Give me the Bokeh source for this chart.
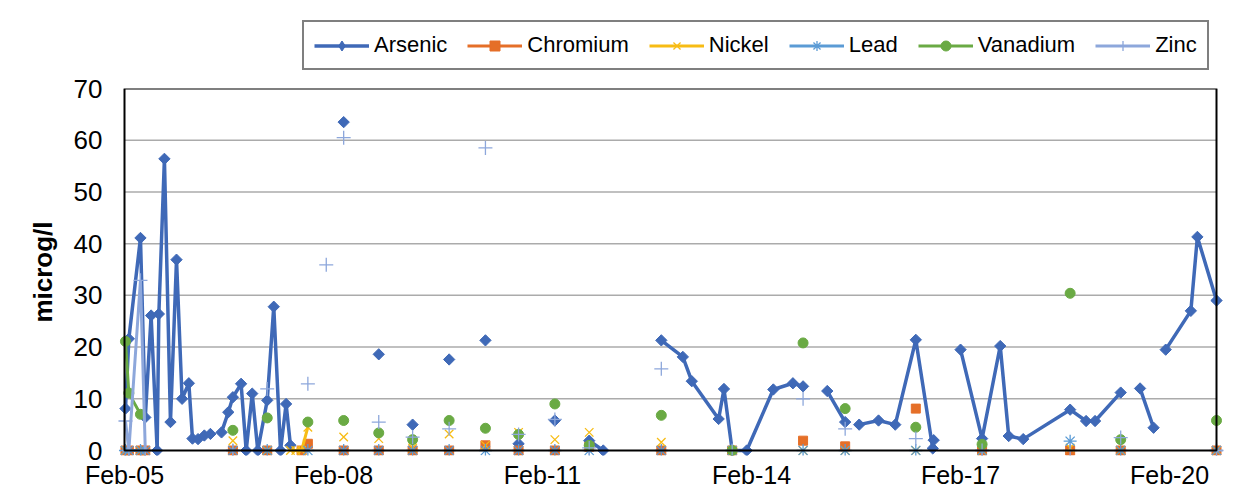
import numpy as np
import pandas as pd
from bokeh.plotting import figure
from bokeh.layouts import column
from bokeh.models import (ColumnDataSource, Range1d, FixedTicker, DatetimeTickFormatter,
                          Legend, LegendItem, BoxAnnotation)
from bokeh.embed import file_html
from bokeh.resources import INLINE

N = None
YEAR = "2010"

# sampling times (month-day hour:minute); rows with no value at all are breaks between runs
sample_time = [
    "02-05 00:20", "02-05 01:30", "02-05 05:30", "02-05 07:10", "02-05 09:10", "02-05 11:15", "02-05 11:50",
    "02-05 13:45", "02-05 15:50", "02-05 17:55", "02-05 19:50", "02-05 22:10", "02-05 23:25",
    "02-06 01:20", "02-06 03:30", "02-06 05:35", "02-06 07:30", "02-06 09:25", "02-06 11:45", "02-06 13:20",
    "02-06 16:10", "02-06 17:55", "02-06 20:00", "02-06 21:55",
    "02-07 01:10", "02-07 03:25", "02-07 05:45", "02-07 07:40", "02-07 09:10", "02-07 11:00", "02-07 13:00",
    "02-07 15:10", "02-07 18:00", "02-07 21:30",
    "02-08 00:00", "02-08 03:30", "02-08 09:30", "02-08 15:35", "02-08 21:30",
    "02-09 03:15", "02-09 09:30", "02-09 15:50", "02-09 22:00",
    "02-10 04:20", "02-10 10:00", "02-10 15:45", "02-10 22:00",
    "02-11 04:15", "02-11 10:00", "02-11 16:05", "02-11 20:55",
    "02-12 06:00", "02-12 16:55",
    "02-13 00:20", "02-13 03:25", "02-13 12:40", "02-13 14:30", "02-13 17:20", "02-13 22:20",
    "02-14 07:30", "02-14 14:15", "02-14 17:45", "02-14 22:00",
    "02-15 02:05", "02-15 08:15", "02-15 10:30", "02-15 13:05", "02-15 19:45",
    "02-16 01:30", "02-16 08:35", "02-16 14:25", "02-16 14:45", "02-16 19:00",
    "02-17 00:00", "02-17 07:25", "02-17 13:40", "02-17 16:35", "02-17 21:35",
    "02-18 13:45", "02-18 19:15", "02-18 22:20",
    "02-19 07:10", "02-19 10:50", "02-19 13:50", "02-19 18:30", "02-19 20:30", "02-19 22:40",
    "02-20 07:20", "02-20 09:35", "02-20 16:10",
]

arsenic = ([8.1, 21.6, 41.1, 6.4, 26.1, 0, 26.4, 56.4, 5.5, 36.9, 10.0, 13.0, 2.3]
           + [2.2, 2.9, 3.2, N, 3.5, 7.4, 10.3, 12.9, 0, 11.0, 0]
           + [9.7, 27.8, 0, 9.0, 1.0, N, N, N, N, N]
           + [N, 63.5, N, 18.6, N]
           + [5.0, N, 17.6, N]
           + [21.3, N, 1.3, N]
           + [5.8, N, 1.9, 0]
           + [N, 21.3]
           + [18.1, 13.4, 6.1, 11.9, 0, 0]
           + [11.8, 13.0, 12.4, N]
           + [11.5, 5.5, N, 5.0, 5.8]
           + [5.0, 21.4, 0.4, 2.0, N]
           + [19.5, 2.3, 20.2, 2.8, 2.2]
           + [7.9, 5.7, 5.7]
           + [11.2, N, 12.0, 4.4, N, 19.5]
           + [27.0, 41.3, 29.0])

chromium = ([0, 0, 0, 0] + [N] * 9
            + [N] * 6 + [0] + [N] * 4
            + [0, N, N, N, N, N, 0, 1.3, N, N]
            + [N, 0, N, 0, N]
            + [0, N, 0, N]
            + [1.0, N, 0, N]
            + [0, N, 0.7, N]
            + [N, 0]
            + [N, N, N, N, 0, N]
            + [N, N, 1.9, N]
            + [N, 0.8, N, N, N]
            + [N, 8.1, N, N, N]
            + [N, 0, N, N, N]
            + [0, N, N]
            + [0, N, N, N, N, N]
            + [N, N, 0])

nickel = ([0, N, 0, N] + [N] * 9
          + [N] * 6 + [1.9] + [N] * 4
          + [0, N, N, N, 0, 0, 0, 4.5, N, N]
          + [N, 2.6, N, 2.3, N]
          + [0.5, N, 3.2, N]
          + [1.0, N, 3.5, N]
          + [2.1, N, 3.5, N]
          + [N, 1.6]
          + [N, N, N, N, 0, N]
          + [N, N, 0, N]
          + [N, 0, N, N, N]
          + [N, 0, N, N, N]
          + [N, 0, N, N, N]
          + [0.5, N, N]
          + [0, N, N, N, N, N]
          + [N, N, 0])

lead = ([0, 0, 0, 0] + [N] * 9
        + [N] * 6 + [0] + [N] * 4
        + [0, N, N, N, N, N, N, 0, N, N]
        + [N, 0, N, 0, N]
        + [0, N, 0, N]
        + [0, N, 0, N]
        + [0, N, 0, N]
        + [N, 0]
        + [N, N, N, N, 0, N]
        + [N, N, 0, N]
        + [N, 0, N, N, N]
        + [N, 0, N, N, N]
        + [N, 0, N, N, N]
        + [1.8, N, N]
        + [0, N, N, N, N, N]
        + [N, N, 0])

vanadium = ([21.1, 11.1, 7.0, N] + [N] * 9
            + [N] * 6 + [3.9] + [N] * 4
            + [6.3, N, N, N, N, N, N, 5.5, N, N]
            + [N, 5.8, N, 3.4, N]
            + [2.1, N, 5.8, N]
            + [4.3, N, 3.1, N]
            + [9.0, N, 1.0, N]
            + [N, 6.8]
            + [N, N, N, N, 0, N]
            + [N, N, 20.8, N]
            + [N, 8.1, N, N, N]
            + [N, 4.5, N, N, N]
            + [N, 1.2, N, N, N]
            + [30.4, N, N]
            + [2.1, N, N, N, N, N]
            + [N, N, 5.8])

zinc = ([5.7, 0, 32.9, 0] + [N] * 9
        + [N] * 6 + [0] + [N] * 4
        + [11.9, N, N, N, N, N, N, 12.9, N, 35.9]
        + [N, 60.5, N, 5.5, N]
        + [2.6, N, 4.2, N]
        + [58.5, N, 3.1, N]
        + [6.0, N, 0.5, N]
        + [N, 15.8]
        + [N, N, N, N, 0, N]
        + [N, N, 10.0, N]
        + [N, 4.2, N, N, N]
        + [N, 2.3, N, N, N]
        + [N, 0, N, N, N]
        + [0, N, N]
        + [2.5, N, N, N, N, N]
        + [N, N, 0])

series_names = ["Arsenic", "Chromium", "Nickel", "Lead", "Vanadium", "Zinc"]
x_tick_dates = ["02-05", "02-08", "02-11", "02-14", "02-17", "02-20"]
y_ticks = [0, 10, 20, 30, 40, 50, 60, 70]

times = pd.to_datetime([f"{YEAR}-{s}" for s in sample_time])
data = dict(t=times)
for name, vals in zip(series_names, [arsenic, chromium, nickel, lead, vanadium, zinc]):
    data[name] = np.array(vals, dtype=float)
src = ColumnDataSource(data)

def ms(ts):
    return ts.value / 1e6

x_min = pd.Timestamp(f"{YEAR}-02-05 00:00")
x_max = times.max()
day_px = 1092.0 / ((x_max - x_min) / pd.Timedelta(days=1))
pad = 8.0 / day_px * 86400000.0
y_per_px = 70.0 / 362.0

FONT = "Liberation Sans"
W = 1240
LEG_H = 70

styles = {
    "Arsenic": dict(color="#3F69B7", marker="square", size=8, angle=np.pi / 4, lw=3.5),
    "Chromium": dict(color="#E56F28", marker="square", size=9, angle=0, lw=3),
    "Nickel": dict(color="#F7BC14", marker="x", size=12, angle=0, lw=3),
    "Lead": dict(color="#5B9BD5", marker="asterisk", size=13, angle=0, lw=3),
    "Vanadium": dict(color="#6AAA44", marker="circle", size=10, angle=0, lw=3),
    "Zinc": dict(color="#8DA7DB", marker="cross", size=14, angle=0, lw=3),
}

def add_series(fig, source, name, for_legend=False):
    st = dict(styles[name])
    if for_legend:
        st["size"] = st["size"] * 0.8
        if name == "Arsenic":
            st["marker"], st["size"], st["angle"] = "diamond", 12, 0
    lr = fig.line("t", name, source=source, line_color=st["color"], line_width=st["lw"])
    if st["marker"] in ("x", "asterisk", "cross"):
        sr = fig.scatter("t", name, source=source, marker=st["marker"], size=st["size"],
                         line_color=st["color"], line_width=1.3, fill_color=None)
    else:
        sr = fig.scatter("t", name, source=source, marker=st["marker"], size=st["size"],
                         angle=st["angle"], fill_color=st["color"], line_color=st["color"])
    return lr, sr

# ---------------- main chart ----------------
p = figure(width=W, height=421, output_backend="svg", toolbar_location=None,
           x_axis_type="datetime",
           x_range=Range1d(ms(x_min) - pad, ms(x_max) + pad),
           y_range=Range1d(-5 * y_per_px, 70),
           min_border_left=116, min_border_right=W - 1224, min_border_top=18, min_border_bottom=36)
p.outline_line_color = None
p.background_fill_color = "white"
p.border_fill_color = "white"
p.xgrid.visible = False
p.ygrid.visible = False

grid_vals = y_ticks[1:-1]
p.segment(x0=[ms(x_min)] * len(grid_vals), x1=[ms(x_max)] * len(grid_vals),
          y0=grid_vals, y1=grid_vals, line_color="#ABABAB", line_width=1.5)

for name in series_names:
    add_series(p, src, name)

p.add_layout(BoxAnnotation(left=ms(x_min), right=ms(x_max), bottom=0, top=70,
                           fill_color=None, fill_alpha=0, line_color="black",
                           line_alpha=1.0, line_width=2))

xax = p.xaxis[0]
xax.ticker = FixedTicker(ticks=[ms(pd.Timestamp(f"{YEAR}-{d}")) for d in x_tick_dates])
fmt = "%b-%d"
xax.formatter = DatetimeTickFormatter(days=fmt, months=fmt, hours=fmt, hourmin=fmt,
                                      minutes=fmt, years=fmt, seconds=fmt, minsec=fmt,
                                      milliseconds=fmt, microseconds=fmt)
xax.axis_line_color = None
xax.major_tick_line_color = None
xax.minor_tick_line_color = None
xax.major_tick_out = 0
xax.major_label_standoff = 5
xax.major_label_text_font = FONT
xax.major_label_text_font_size = "25px"
xax.major_label_text_color = "black"

yax = p.yaxis[0]
yax.ticker = FixedTicker(ticks=y_ticks)
yax.axis_line_color = None
yax.major_tick_line_color = None
yax.minor_tick_line_color = None
yax.major_label_standoff = 8
yax.major_label_text_font = FONT
yax.major_label_text_font_size = "26px"
yax.major_label_text_color = "black"
yax.axis_label = "microg/l"
yax.axis_label_text_font = FONT
yax.axis_label_text_font_size = "26px"
yax.axis_label_text_font_style = "bold"
yax.axis_label_text_color = "black"
yax.axis_label_standoff = 13

# ---------------- legend strip above the chart ----------------
# one off-screen sample per series so that the legend can draw each glyph
offscreen = ColumnDataSource({"t": [10.0], **{n: [10.0] for n in series_names}})
lg = figure(width=W, height=LEG_H, output_backend="svg", toolbar_location=None,
            x_range=Range1d(0, 1), y_range=Range1d(0, 1),
            x_axis_location=None, y_axis_location=None,
            min_border_left=0, min_border_right=0, min_border_top=0, min_border_bottom=0)
lg.outline_line_color = None
lg.grid.visible = False
items = []
for name in series_names:
    lr, sr = add_series(lg, offscreen, name, for_legend=True)
    items.append(LegendItem(label=name, renderers=[lr, sr]))

legend = Legend(items=items, orientation="horizontal", location=(186, 0),
                label_text_font=FONT, label_text_font_size="22px", label_text_color="black",
                glyph_width=55, glyph_height=25, label_height=25, label_standoff=5,
                spacing=20, padding=10, margin=0,
                border_line_color="black", border_line_width=2,
                background_fill_color="white", background_fill_alpha=1.0)
lg.add_layout(legend)

layout = column(lg, p, spacing=0)
open("out.html", "w").write(file_html(layout, INLINE))
